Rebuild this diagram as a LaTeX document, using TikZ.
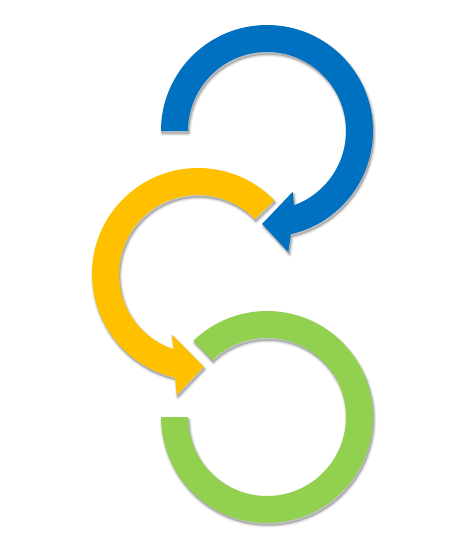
\documentclass[tikz,border=0pt]{standalone}
\begin{document}
\begin{tikzpicture}[x=1pt,y=1pt,
  shadowpath/.style={fill=black, draw=black, opacity=0.045, line join=round},
  bluefill/.style={fill={rgb,255:red,0;green,112;blue,192}},
  yellowfill/.style={fill={rgb,255:red,255;green,192;blue,0}},
  greenfill/.style={fill={rgb,255:red,146;green,208;blue,80}}]
\path[use as bounding box] (0,0) rectangle (465,-536);
\def\pathBlue{(180:106) arc[start angle=180,end angle=-77,radius=106] -- (-80:123) -- (-93:93) -- (-67:66) -- (-70:79) arc[start angle=-70,end angle=180,radius=79] -- cycle}
\def\pathYellow{(44:106) arc[start angle=44,end angle=257.5,radius=106] -- (260:123) -- (273.5:93) -- (246.6:66) -- (252:79) arc[start angle=252,end angle=44,radius=79] -- cycle}
\def\pathGreen{(134:106) arc[start angle=134,end angle=-180,radius=106] -- (-180:79) arc[start angle=-180,end angle=134,radius=79] -- cycle}
% shadows
\foreach \w in {0.5,1.5,2.5,3.5,4.5}{
  \path[shadowpath, line width=\w pt, shift={(268.2,-133.5)}] \pathBlue;
  \path[shadowpath, line width=\w pt, shift={(199.2,-276.5)}] \pathYellow;
  \path[shadowpath, line width=\w pt, shift={(268.2,-419.5)}] \pathGreen;
}
% shapes
\path[bluefill, shift={(267,-131)}] \pathBlue;
\path[yellowfill, shift={(198,-274)}] \pathYellow;
\path[greenfill, shift={(267,-417)}] \pathGreen;
\end{tikzpicture}
\end{document}
